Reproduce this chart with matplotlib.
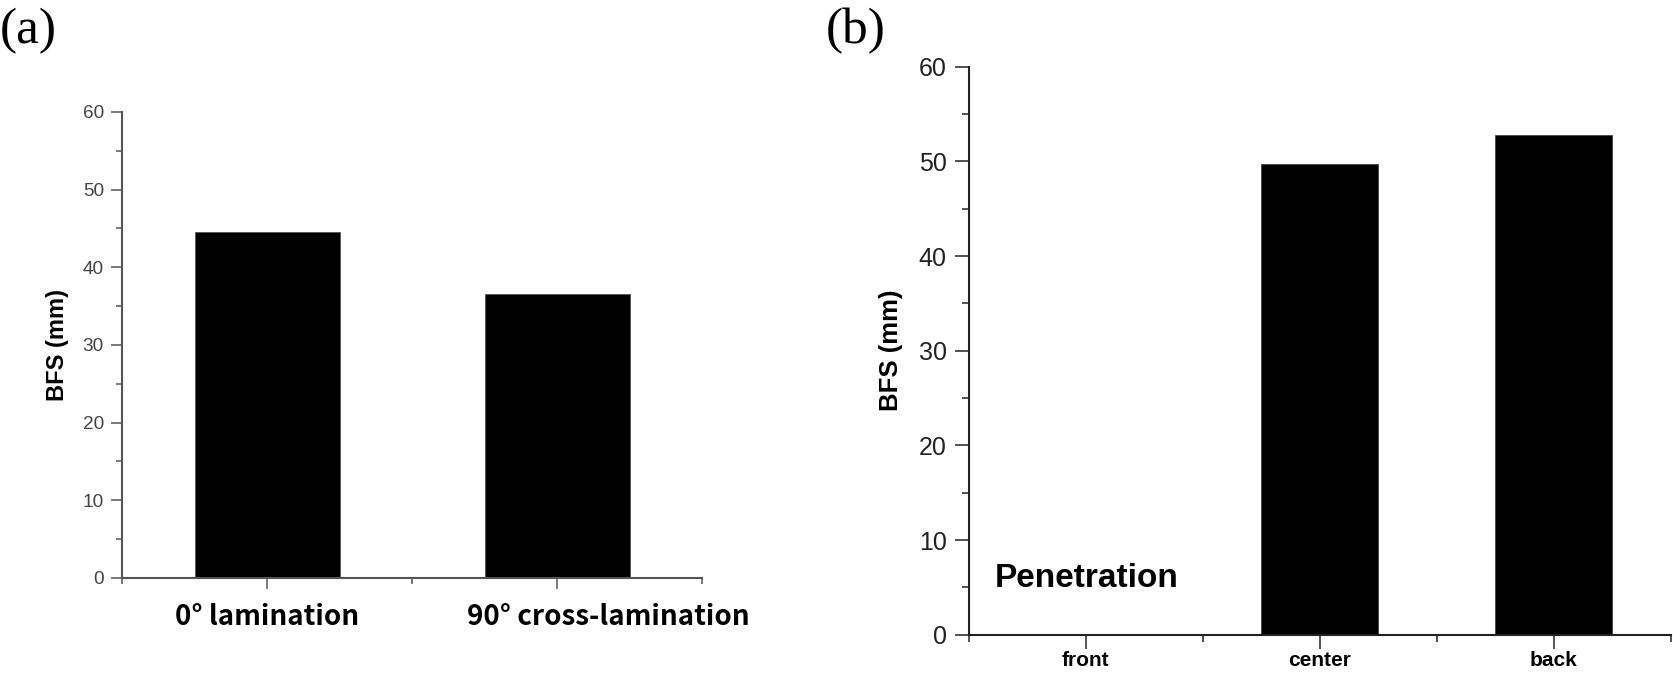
import matplotlib
matplotlib.use("Agg")
import matplotlib.pyplot as plt
from matplotlib.ticker import FixedLocator, MultipleLocator

# ------------------------------------------------------------------
# Data
# ------------------------------------------------------------------
lam_labels = ["0° lamination", "90° cross-lamination"]
lam_bfs    = [44.5, 36.6]

pos_labels = ["front", "center", "back"]
pos_bfs    = [0.0, 49.7, 52.75]

note_text  = "Penetration"
y_label    = "BFS (mm)"
y_ticks    = [0, 10, 20, 30, 40, 50, 60]

SANS  = ["Liberation Sans", "DejaVu Sans"]
KR    = ["Noto Sans CJK KR", "DejaVu Sans"]
SERIF = ["Liberation Serif", "DejaVu Serif"]

fig = plt.figure(figsize=(16.74, 6.73), dpi=100)


def style_axes(ax, n, spine_col, maj_len, min_len):
    for s in ("top", "right"):
        ax.spines[s].set_visible(False)
    for s in ("left", "bottom"):
        ax.spines[s].set_color(spine_col)
        ax.spines[s].set_linewidth(1.5)
    ax.set_xlim(-0.5, n - 0.5)
    ax.set_ylim(0, 60)
    ax.yaxis.set_major_locator(FixedLocator(y_ticks))
    ax.yaxis.set_minor_locator(MultipleLocator(5))
    ax.xaxis.set_major_locator(FixedLocator(list(range(n))))
    ax.xaxis.set_minor_locator(FixedLocator([i - 0.5 for i in range(n + 1)]))
    ax.tick_params(which="major", direction="out", length=maj_len,
                   width=1.1, color=spine_col)
    ax.tick_params(which="minor", direction="out", length=min_len,
                   width=1.1, color=spine_col)


# ------------------------------------------------------------------
# (a) lamination
# ------------------------------------------------------------------
ax1 = fig.add_axes([0.0729, 0.1412, 0.3465, 0.6924])
ax1.bar(range(len(lam_bfs)), lam_bfs, width=0.5, color="black",
        edgecolor="#555555", linewidth=0.6)
style_axes(ax1, len(lam_bfs), "#555555", 8, 4)
ax1.set_yticks(y_ticks)
ax1.set_yticklabels([str(v) for v in y_ticks], family=SANS,
                    fontsize=13.7, color="#444444")
ax1.tick_params(axis="y", pad=5)
ax1.set_xticklabels([])
ax1.set_ylabel(y_label, family=SANS, fontsize=17, fontweight="bold")
ax1.yaxis.set_label_coords(-0.091, 0.5)

# second label sits right of its bar in the original
lab_shift = [0, 36.7]
for i, (txt, dx) in enumerate(zip(lam_labels, lab_shift)):
    ax1.annotate(txt, xy=(i, 0), xycoords=("data", "axes fraction"),
                 xytext=(dx, -34), textcoords="offset points",
                 ha="center", va="baseline", family=KR,
                 fontsize=20, fontweight="bold")

# ------------------------------------------------------------------
# (b) impact position
# ------------------------------------------------------------------
ax2 = fig.add_axes([0.5787, 0.0569, 0.4195, 0.844])
ax2.bar(range(len(pos_bfs)), pos_bfs, width=0.5, color="black",
        edgecolor="#444444", linewidth=0.6)
style_axes(ax2, len(pos_bfs), "#222222", 10, 5)
ax2.set_yticks(y_ticks)
ax2.set_yticklabels([str(v) for v in y_ticks], family=SANS,
                    fontsize=18, color="#222222")
ax2.tick_params(axis="y", pad=6)
ax2.set_xticklabels(pos_labels, family=SANS, fontsize=15,
                    fontweight="bold")
ax2.tick_params(axis="x", pad=2)
ax2.set_ylabel(y_label, family=SANS, fontsize=18.5, fontweight="bold")
ax2.yaxis.set_label_coords(-0.0935, 0.5)
ax2.text(-0.39, 5.0, note_text, family=SANS, fontsize=24,
         fontweight="bold", ha="left", va="baseline")

# panel letters
fig.text(0.0, 0.936, "(a)", family=SERIF, fontsize=37, va="baseline")
fig.text(0.493, 0.936, "(b)", family=SERIF, fontsize=37, va="baseline")

fig.savefig("out.png", dpi=100)
